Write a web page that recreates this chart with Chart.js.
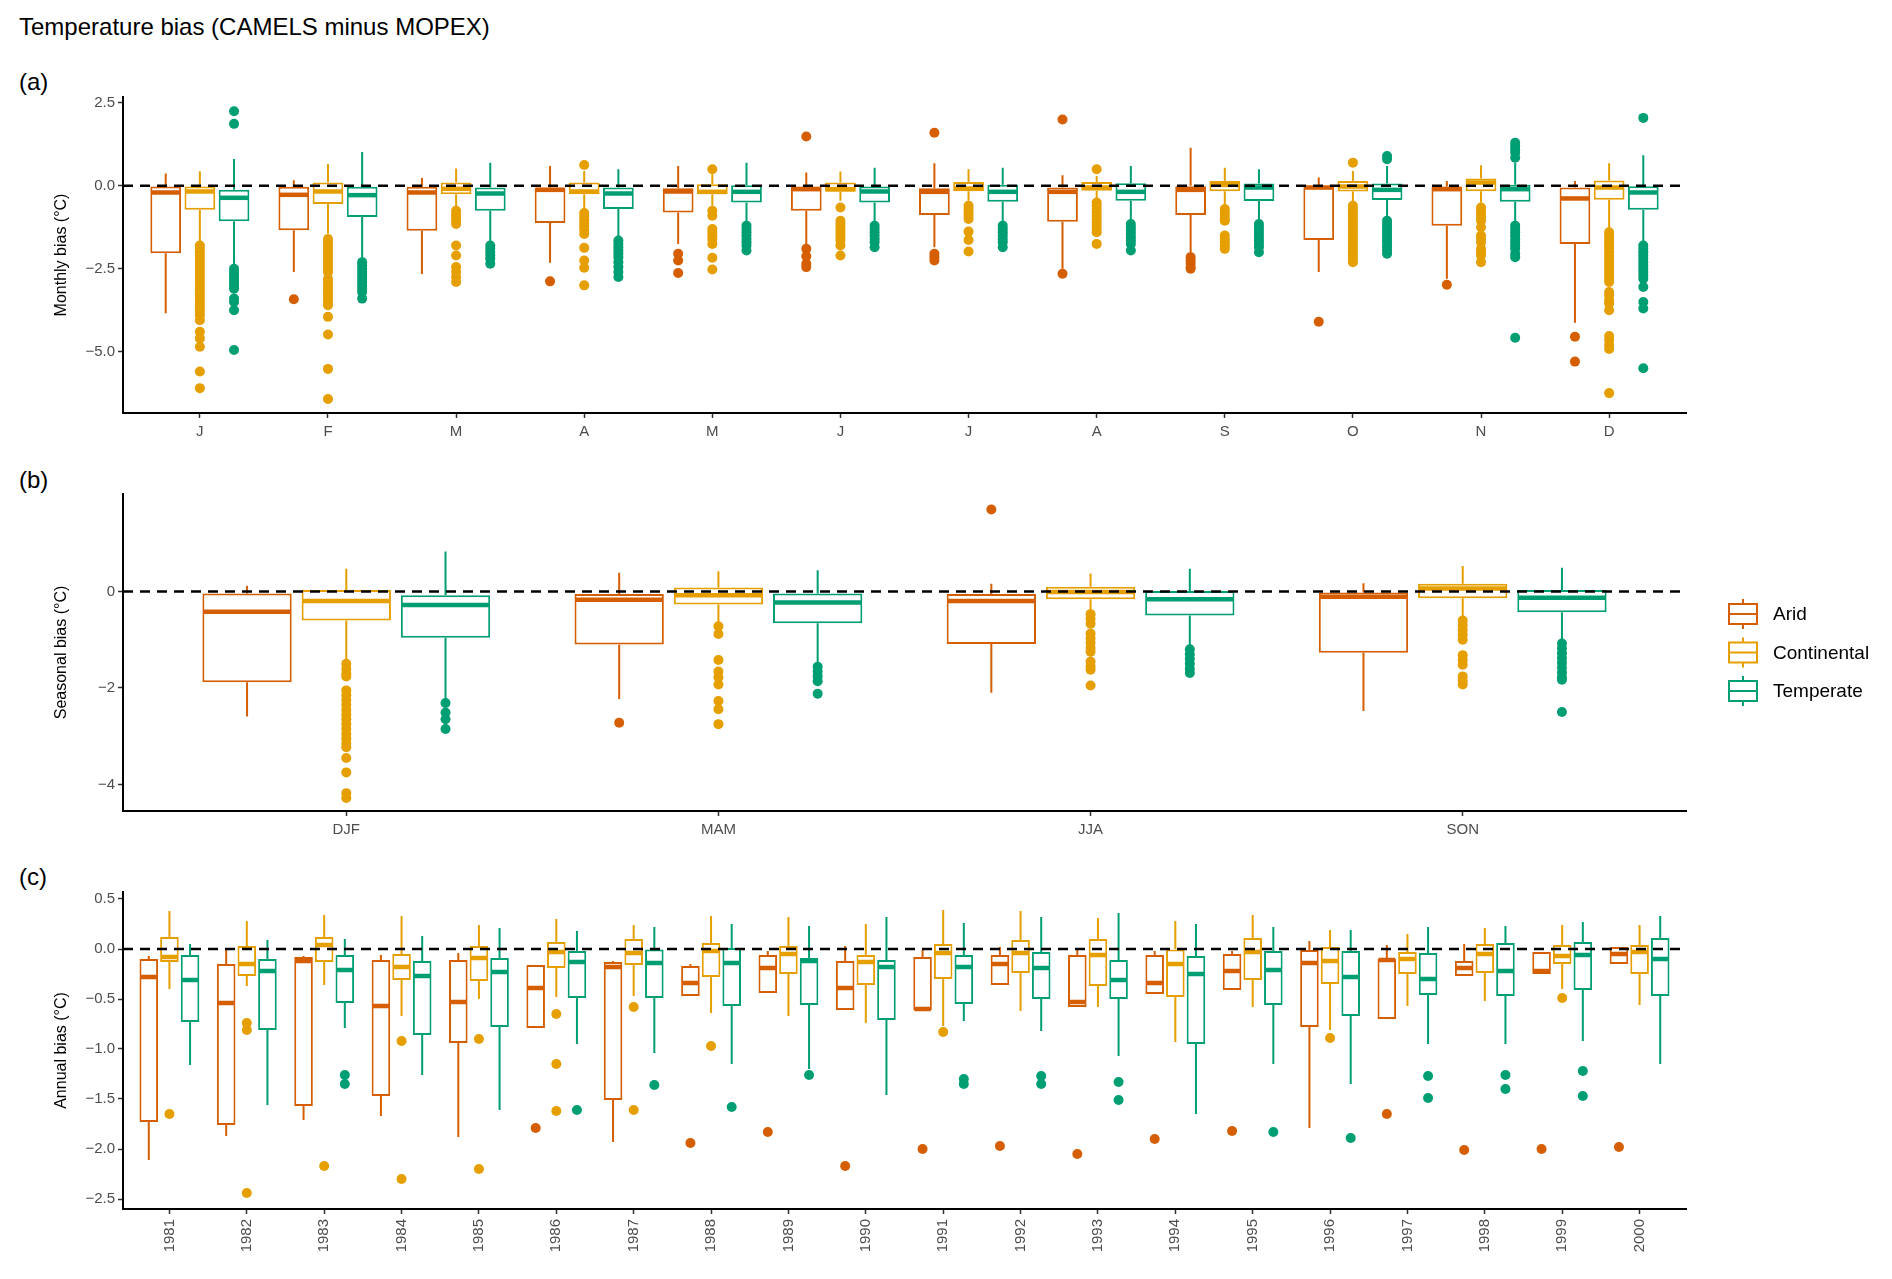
<!DOCTYPE html>
<html>
<head>
<meta charset="utf-8">
<title>Temperature bias (CAMELS minus MOPEX)</title>
<script src="https://cdn.jsdelivr.net/npm/chart.js@4.4.1/dist/chart.umd.min.js"></script>
<style>
  body { margin: 0; background: #fff; width: 1892px; height: 1279px; position: relative; overflow: hidden;
         font-family: 'Liberation Sans', Arial, sans-serif; }
  .lbl { position: absolute; left: 19px; font-size: 24px; line-height: 1; color: #000; white-space: nowrap; }
  canvas { position: absolute; left: 0; }
</style>
</head>
<body>
<div class="lbl" style="top:15px">Temperature bias (CAMELS minus MOPEX)</div>
<div class="lbl" style="top:70px">(a)</div>
<div class="lbl" style="top:468px">(b)</div>
<div class="lbl" style="top:865px">(c)</div>
<canvas id="monthlyChart" width="1892" height="365" style="top:85px"></canvas>
<canvas id="seasonalChart" width="1892" height="368" style="top:482px"></canvas>
<canvas id="annualChart" width="1892" height="399" style="top:880px"></canvas>
<script>
// categories
const monthLabels = ['J', 'F', 'M', 'A', 'M', 'J', 'J', 'A', 'S', 'O', 'N', 'D'];
const seasonLabels = ['DJF', 'MAM', 'JJA', 'SON'];
const yearLabels = ['1981', '1982', '1983', '1984', '1985', '1986', '1987', '1988', '1989', '1990',
                    '1991', '1992', '1993', '1994', '1995', '1996', '1997', '1998', '1999', '2000'];
const seriesNames = ['Arid', 'Continental', 'Temperate'];

// y tick values
const monthlyTicks = [-5, -2.5, 0, 2.5];
const seasonalTicks = [-4, -2, 0];
const annualTicks = [-2.5, -2, -1.5, -1, -0.5, 0, 0.5];

// box stats per category: [lower whisker, q1, median, q3, upper whisker]
const monthlyArid = [
  [-3.84, -2.03, -0.2, -0.02, 0.37], [-2.6, -1.34, -0.27, -0.03, 0.17], [-2.66, -1.35, -0.2, -0.03, 0.24],
  [-2.32, -1.12, -0.12, -0.05, 0.6], [-1.75, -0.8, -0.17, -0.07, 0.6], [-1.85, -0.75, -0.1, -0.02, 0.4],
  [-1.85, -0.88, -0.18, -0.07, 0.68], [-2.5, -1.08, -0.18, -0.05, 0.32], [-2.1, -0.88, -0.12, 0.0, 1.15],
  [-2.6, -1.63, -0.05, 0.0, 0.25], [-2.8, -1.2, -0.1, -0.02, 0.15], [-4.13, -1.75, -0.38, -0.05, 0.15]
];
const monthlyCont = [
  [-1.75, -0.72, -0.17, -0.02, 0.44], [-1.44, -0.55, -0.17, 0.1, 0.66], [-0.65, -0.25, -0.09, 0.1, 0.52],
  [-0.7, -0.25, -0.17, 0.1, 0.45], [-0.6, -0.25, -0.18, 0.05, 0.35], [-0.45, -0.18, -0.1, 0.1, 0.43],
  [-0.45, -0.16, -0.08, 0.12, 0.5], [-0.4, -0.15, -0.05, 0.12, 0.3], [-0.6, -0.16, 0.03, 0.15, 0.55],
  [-0.5, -0.17, -0.02, 0.15, 0.45], [-0.5, -0.16, 0.1, 0.22, 0.62], [-1.3, -0.42, -0.05, 0.16, 0.68]
];
const monthlyTemp = [
  [-2.43, -1.07, -0.36, -0.12, 0.81], [-2.25, -0.94, -0.28, -0.03, 1.02], [-1.75, -0.75, -0.23, -0.05, 0.7],
  [-1.6, -0.7, -0.23, -0.05, 0.5], [-1.15, -0.5, -0.18, 0.02, 0.7], [-1.15, -0.5, -0.17, -0.02, 0.55],
  [-1.1, -0.48, -0.18, 0.03, 0.55], [-1.1, -0.45, -0.18, 0.08, 0.6], [-1.1, -0.46, -0.05, 0.07, 0.5],
  [-1.0, -0.43, -0.12, 0.07, 0.6], [-1.1, -0.48, -0.1, 0.03, 0.7], [-1.75, -0.72, -0.2, 0.0, 0.92]
];
const monthlyAridOut = [
  [], [-3.42], [], [-2.88], [-2.05, -2.25, -2.63], [1.49, -1.9, -2.12, -2.35, -2.45],
  [1.6, -2.05, -2.15, -2.25], [2.0, -2.65], [-2.15, -2.25, -2.35, -2.45, -2.5], [-4.1], [-2.98], [-4.55, -5.3]
];
const monthlyContOut = [
  [-1.8, -1.9, -2.0, -2.1, -2.2, -2.3, -2.4, -2.5, -2.6, -2.7, -2.8, -2.9, -3.0, -3.1, -3.2, -3.3, -3.4, -3.5, -3.6, -3.7, -3.8, -3.9, -4.05, -4.4, -4.6, -4.85, -5.6, -6.1],
  [-1.6, -1.7, -1.8, -1.9, -2.0, -2.1, -2.2, -2.3, -2.4, -2.5, -2.6, -2.8, -2.9, -3.0, -3.1, -3.2, -3.3, -3.4, -3.5, -3.6, -3.95, -4.48, -5.52, -6.43],
  [-0.75, -0.85, -0.95, -1.05, -1.15, -1.8, -2.1, -2.45, -2.6, -2.75, -2.9],
  [0.63, -0.82, -0.92, -1.02, -1.12, -1.22, -1.32, -1.45, -1.87, -2.25, -2.47, -3.0],
  [0.5, -0.75, -0.9, -1.3, -1.4, -1.5, -1.6, -1.75, -2.17, -2.52],
  [-0.65, -1.05, -1.15, -1.25, -1.35, -1.45, -1.55, -1.65, -1.8, -2.1],
  [-0.6, -0.7, -0.8, -0.9, -1.0, -1.38, -1.63, -1.98],
  [0.5, -0.5, -0.6, -0.7, -0.8, -0.9, -1.0, -1.1, -1.2, -1.3, -1.4, -1.75],
  [-0.7, -0.8, -0.9, -1.0, -1.05, -1.5, -1.6, -1.7, -1.8, -1.9],
  [0.7, -0.6, -0.7, -0.8, -0.9, -1.0, -1.1, -1.2, -1.3, -1.4, -1.5, -1.6, -1.7, -1.8, -1.9, -2.0, -2.1, -2.2, -2.3],
  [-0.65, -0.75, -0.85, -0.95, -1.05, -1.25, -1.5, -1.6, -1.7, -1.9, -2.0, -2.1, -2.3],
  [-1.4, -1.5, -1.6, -1.7, -1.8, -1.9, -2.0, -2.1, -2.2, -2.3, -2.4, -2.5, -2.6, -2.7, -2.8, -2.9, -3.2, -3.3, -3.45, -3.55, -3.75, -4.53, -4.65, -4.8, -4.92, -6.25]
];
const monthlyTempOut = [
  [2.25, 1.87, -2.5, -2.6, -2.7, -2.8, -2.9, -3.0, -3.1, -3.4, -3.5, -3.75, -4.95],
  [-2.3, -2.4, -2.5, -2.6, -2.7, -2.8, -2.9, -3.0, -3.1, -3.2, -3.4],
  [-1.8, -1.9, -2.0, -2.1, -2.2, -2.35],
  [-1.65, -1.75, -1.85, -1.95, -2.05, -2.15, -2.3, -2.45, -2.6, -2.75],
  [-1.2, -1.3, -1.4, -1.5, -1.6, -1.7, -1.8, -1.95],
  [-1.2, -1.3, -1.4, -1.5, -1.6, -1.7, -1.85],
  [-1.2, -1.3, -1.4, -1.5, -1.6, -1.7, -1.85],
  [-1.15, -1.25, -1.35, -1.45, -1.55, -1.65, -1.75, -1.95],
  [-1.15, -1.25, -1.35, -1.45, -1.55, -1.65, -1.75, -1.85, -2.0],
  [0.9, 0.8, -1.05, -1.15, -1.25, -1.35, -1.45, -1.55, -1.65, -1.75, -1.85, -1.95, -2.05],
  [1.3, 1.2, 1.1, 1.0, 0.85, -1.2, -1.3, -1.4, -1.5, -1.6, -1.7, -1.8, -1.9, -2.05, -2.15, -4.58],
  [2.05, -1.8, -1.9, -2.0, -2.1, -2.2, -2.3, -2.4, -2.5, -2.6, -2.7, -2.8, -3.05, -3.5, -3.7, -5.5]
];

const seasonalArid = [
  [-2.59, -1.88, -0.42, -0.04, 0.12], [-2.23, -1.1, -0.17, -0.05, 0.39],
  [-2.1, -1.09, -0.2, -0.05, 0.16], [-2.48, -1.27, -0.11, -0.02, 0.17]
];
const seasonalCont = [
  [-1.42, -0.6, -0.2, 0.03, 0.47], [-0.67, -0.27, -0.08, 0.08, 0.42],
  [-0.4, -0.16, -0.01, 0.1, 0.37], [-0.53, -0.14, 0.06, 0.16, 0.53]
];
const seasonalTemp = [
  [-2.27, -0.96, -0.28, -0.08, 0.83], [-1.52, -0.66, -0.23, -0.04, 0.44],
  [-1.15, -0.5, -0.16, 0.01, 0.47], [-1.04, -0.43, -0.13, 0.03, 0.49]
];
const seasonalAridOut = [[], [-2.72], [1.7], []];
const seasonalContOut = [
  [-1.5, -1.6, -1.7, -1.76, -2.05, -2.15, -2.25, -2.35, -2.45, -2.55, -2.65, -2.75, -2.85, -2.95, -3.05, -3.15, -3.23, -3.45, -3.75, -4.18, -4.28],
  [-0.72, -0.88, -1.42, -1.66, -1.78, -1.93, -2.27, -2.44, -2.75],
  [-0.47, -0.57, -0.67, -0.87, -0.97, -1.07, -1.17, -1.25, -1.45, -1.55, -1.62, -1.95],
  [-0.6, -0.7, -0.8, -0.9, -1.0, -1.32, -1.42, -1.52, -1.76, -1.85, -1.93]
];
const seasonalTempOut = [
  [-2.31, -2.51, -2.65, -2.85],
  [-1.56, -1.66, -1.76, -1.86, -2.12],
  [-1.2, -1.3, -1.4, -1.5, -1.6, -1.69],
  [-1.08, -1.18, -1.28, -1.38, -1.48, -1.58, -1.68, -1.78, -1.83, -2.5]
];

const annualArid = [
  [-2.11, -1.73, -0.28, -0.1, -0.07], [-1.87, -1.76, -0.54, -0.15, -0.01], [-1.71, -1.57, -0.12, -0.08, -0.07],
  [-1.67, -1.47, -0.57, -0.11, -0.06], [-1.88, -0.94, -0.53, -0.11, -0.04], [-0.79, -0.79, -0.39, -0.16, -0.16],
  [-1.93, -1.51, -0.18, -0.13, -0.12], [-0.47, -0.47, -0.34, -0.17, -0.15], [-0.44, -0.44, -0.19, -0.06, -0.02],
  [-0.61, -0.61, -0.39, -0.12, 0.03], [-0.61, -0.61, -0.6, -0.08, -0.01], [-0.36, -0.36, -0.15, -0.06, 0.02],
  [-0.58, -0.58, -0.53, -0.06, 0.0], [-0.45, -0.45, -0.34, -0.06, -0.02], [-0.41, -0.41, -0.22, -0.05, -0.02],
  [-1.79, -0.78, -0.14, -0.01, 0.08], [-0.7, -0.7, -0.11, -0.1, 0.04], [-0.27, -0.27, -0.19, -0.12, 0.05],
  [-0.25, -0.25, -0.22, -0.03, -0.03], [-0.15, -0.15, -0.05, 0.02, 0.02]
];
const annualCont = [
  [-0.4, -0.13, -0.08, 0.12, 0.38], [-0.37, -0.27, -0.15, 0.03, 0.28], [-0.36, -0.13, 0.04, 0.12, 0.34],
  [-0.67, -0.31, -0.18, -0.05, 0.33], [-0.5, -0.32, -0.09, 0.03, 0.24], [-0.48, -0.19, -0.03, 0.07, 0.3],
  [-0.47, -0.16, -0.04, 0.1, 0.24], [-0.64, -0.28, -0.02, 0.06, 0.33], [-0.67, -0.25, -0.05, 0.03, 0.32],
  [-0.74, -0.36, -0.13, -0.06, 0.25], [-0.77, -0.3, -0.04, 0.05, 0.39], [-0.62, -0.24, -0.04, 0.09, 0.38],
  [-0.58, -0.37, -0.06, 0.1, 0.31], [-0.93, -0.48, -0.15, 0.0, 0.28], [-0.58, -0.31, -0.03, 0.11, 0.34],
  [-0.81, -0.35, -0.12, 0.02, 0.19], [-0.57, -0.25, -0.1, -0.03, 0.15], [-0.52, -0.24, -0.05, 0.05, 0.21],
  [-0.4, -0.15, -0.07, 0.04, 0.24], [-0.56, -0.25, -0.03, 0.04, 0.24]
];
const annualTemp = [
  [-1.16, -0.73, -0.31, -0.06, 0.05], [-1.56, -0.81, -0.22, -0.1, 0.09], [-0.79, -0.54, -0.21, -0.06, 0.1],
  [-1.26, -0.86, -0.27, -0.12, 0.13], [-1.61, -0.78, -0.23, -0.09, 0.21], [-0.95, -0.49, -0.13, -0.02, 0.18],
  [-1.04, -0.49, -0.14, 0.0, 0.22], [-1.15, -0.57, -0.14, 0.01, 0.25], [-1.2, -0.56, -0.12, -0.09, 0.23],
  [-1.46, -0.71, -0.18, -0.11, 0.32], [-0.72, -0.55, -0.18, -0.06, 0.26], [-0.82, -0.5, -0.19, -0.03, 0.32],
  [-1.07, -0.5, -0.31, -0.11, 0.36], [-1.65, -0.95, -0.25, -0.07, 0.25], [-1.15, -0.56, -0.21, -0.02, 0.22],
  [-1.35, -0.67, -0.28, -0.02, 0.19], [-0.95, -0.46, -0.3, -0.04, 0.22], [-0.95, -0.47, -0.22, 0.06, 0.23],
  [-0.92, -0.41, -0.06, 0.07, 0.27], [-1.15, -0.47, -0.1, 0.11, 0.33]
];
const annualAridOut = [[], [], [], [], [], [-1.79], [], [-1.94], [-1.83], [-2.17],
                       [-2.0], [-1.97], [-2.05], [-1.9], [-1.82], [], [-1.65], [-2.01], [-2.0], [-1.98]];
const annualContOut = [[-1.65], [-0.74, -0.81, -2.44], [-2.17], [-0.92, -2.3], [-0.9, -2.2], [-0.65, -1.15, -1.62],
                       [-0.58, -1.61], [-0.97], [], [], [-0.83], [], [], [], [], [-0.89], [], [], [-0.49], []];
const annualTempOut = [[], [], [-1.26, -1.35], [], [], [-1.61], [-1.36], [-1.58], [-1.26], [],
                       [-1.3, -1.35], [-1.27, -1.35], [-1.33, -1.51], [], [-1.83], [-1.89], [-1.27, -1.49],
                       [-1.26, -1.4], [-1.22, -1.47], []];

const colors = ['#D55E00', '#E69F00', '#009E73'];
const FONT = "'Liberation Sans', Arial, sans-serif";

function fmtTick(v, decimals) {
    return v.toFixed(decimals).replace('-', '\u2212');
}

// whiskers, medians, outliers and the dashed zero line, placed from the bars and the y scale
const boxExtras = {
    id: 'boxExtras',
    afterDatasetsDraw(chart) {
        const ctx = chart.ctx;
        const yScale = chart.scales.y;
        const area = chart.chartArea;
        ctx.save();
        chart.data.datasets.forEach((ds, di) => {
            const meta = chart.getDatasetMeta(di);
            meta.data.forEach((bar, i) => {
                const s = ds.stats[i];
                const x = bar.x;
                const half = bar.width / 2;
                ctx.strokeStyle = ds.borderColor;
                ctx.lineWidth = 2;
                ctx.beginPath();
                ctx.moveTo(x, yScale.getPixelForValue(s[3]));
                ctx.lineTo(x, yScale.getPixelForValue(s[4]));
                ctx.moveTo(x, yScale.getPixelForValue(s[1]));
                ctx.lineTo(x, yScale.getPixelForValue(s[0]));
                ctx.stroke();
                const ym = yScale.getPixelForValue(s[2]);
                ctx.lineWidth = 4.5;
                ctx.beginPath();
                ctx.moveTo(x - half + 1, ym);
                ctx.lineTo(x + half - 1, ym);
                ctx.stroke();
                ctx.fillStyle = ds.borderColor;
                ds.outliers[i].forEach(v => {
                    ctx.beginPath();
                    ctx.arc(x, yScale.getPixelForValue(v), 5, 0, Math.PI * 2);
                    ctx.fill();
                });
            });
        });
        const y0 = yScale.getPixelForValue(0);
        ctx.setLineDash([10, 7]);
        ctx.strokeStyle = '#000';
        ctx.lineWidth = 2.5;
        ctx.beginPath();
        ctx.moveTo(area.left, y0);
        ctx.lineTo(area.right, y0);
        ctx.stroke();
        ctx.restore();
    }
};

// boxplot-style legend keys to the right of panel (b)
const boxLegend = {
    id: 'boxLegend',
    afterDraw(chart, args, opts) {
        if (!opts.show) return;
        const ctx = chart.ctx;
        const area = chart.chartArea;
        const cy = (area.top + area.bottom) / 2;
        ctx.save();
        chart.data.datasets.forEach((ds, i) => {
            const y = cy + (i - 1) * 38.5;
            const x = area.right + 57;
            ctx.strokeStyle = ds.borderColor;
            ctx.lineWidth = 2;
            ctx.beginPath();
            ctx.moveTo(x, y - 15); ctx.lineTo(x, y + 15);
            ctx.stroke();
            ctx.fillStyle = '#fff';
            ctx.fillRect(x - 15, y - 10, 30, 20);
            ctx.strokeRect(x - 14, y - 10, 28, 20);
            ctx.beginPath();
            ctx.moveTo(x - 14, y); ctx.lineTo(x + 14, y);
            ctx.stroke();
            ctx.fillStyle = '#000';
            ctx.font = '19px ' + FONT;
            ctx.textBaseline = 'middle';
            ctx.fillText(ds.label, x + 30, y + 1);
        });
        ctx.restore();
    }
};

function makePanel(id, labels, stats, outs, yMin, yMax, yTicks, decimals, yTitle, xHeight, rotate, legend) {
    const datasets = seriesNames.map((name, k) => ({
        label: name,
        data: stats[k].map(b => [b[1], b[3]]),
        stats: stats[k],
        outliers: outs[k],
        backgroundColor: '#ffffff',
        borderColor: colors[k],
        borderWidth: 2,
        borderSkipped: false,
        inflateAmount: 0,
        categoryPercentage: 0.8,
        barPercentage: 0.9
    }));
    new Chart(document.getElementById(id), {
        type: 'bar',
        data: { labels: labels, datasets: datasets },
        plugins: [boxExtras, boxLegend],
        options: {
            responsive: false,
            animation: false,
            layout: { padding: { top: 10, right: 206, left: 0, bottom: 0 } },
            plugins: {
                legend: { display: false },
                tooltip: { enabled: false },
                boxLegend: { show: legend }
            },
            scales: {
                x: {
                    type: 'category',
                    offset: true,
                    // ggplot-style discrete expansion of 0.6 on each side
                    afterBuildTicks: s => { s._startValue -= 0.1; s._valueRange += 0.2; },
                    afterFit: s => { s.height = xHeight; },
                    grid: { offset: false, drawOnChartArea: false, drawTicks: true, tickLength: 5, tickColor: '#333', tickWidth: 1.5 },
                    border: { display: true, color: '#000', width: 2 },
                    ticks: {
                        color: '#4d4d4d', font: { family: FONT, size: 15 }, padding: 5, autoSkip: false,
                        maxRotation: rotate ? 90 : 0, minRotation: rotate ? 90 : 0
                    }
                },
                y: {
                    type: 'linear',
                    min: yMin,
                    max: yMax,
                    afterBuildTicks: s => { s.ticks = yTicks.map(v => ({ value: v })); },
                    afterFit: s => { s.width = 123; },
                    grid: { drawOnChartArea: false, drawTicks: true, tickLength: 5, tickColor: '#333', tickWidth: 1.5 },
                    border: { display: true, color: '#000', width: 2 },
                    ticks: {
                        color: '#4d4d4d', font: { family: FONT, size: 15 }, padding: 3,
                        callback: v => fmtTick(v, decimals)
                    },
                    title: {
                        display: true, text: yTitle, color: '#000',
                        font: { family: FONT, size: 16 }, padding: { top: 52, bottom: 0 }
                    }
                }
            }
        }
    });
}

makePanel('monthlyChart', monthLabels,
    [monthlyArid, monthlyCont, monthlyTemp], [monthlyAridOut, monthlyContOut, monthlyTempOut],
    -6.85, 2.68, monthlyTicks, 1, 'Monthly bias (\u00B0C)', 37, false, false);
makePanel('seasonalChart', seasonLabels,
    [seasonalArid, seasonalCont, seasonalTemp], [seasonalAridOut, seasonalContOut, seasonalTempOut],
    -4.55, 2.02, seasonalTicks, 0, 'Seasonal bias (\u00B0C)', 39, false, true);
makePanel('annualChart', yearLabels,
    [annualArid, annualCont, annualTemp], [annualAridOut, annualContOut, annualTempOut],
    -2.6, 0.57, annualTicks, 1, 'Annual bias (\u00B0C)', 70, true, false);
</script>
</body>
</html>
